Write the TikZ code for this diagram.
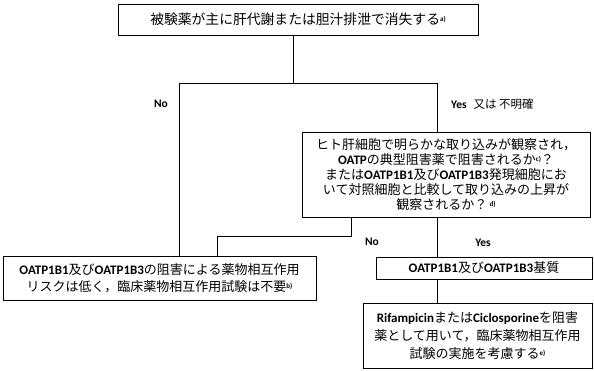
\documentclass[tikz,border=0pt]{standalone}
\usepackage{fontspec}
\setmainfont{Noto Sans CJK JP}
\newfontfamily\latb{Carlito}[BoldFont={* Bold}]
\newcommand{\lb}[1]{{\latb\bfseries #1}}
\newcommand{\sus}[1]{\raisebox{0.45ex}{\fontsize{7}{7}\selectfont\lb{#1}}}
\tikzset{
  box/.style={draw, line width=0.9pt, align=center, inner sep=0pt, anchor=center},
  conn/.style={draw, line width=0.9pt},
  lab/.style={inner sep=0pt, anchor=center, font=\fontsize{11.5}{13}\selectfont}
}
\begin{document}
\begin{tikzpicture}[x=1pt,y=-1pt]
\useasboundingbox (0,0) rectangle (594,370);
\node[box, minimum width=360pt, minimum height=31pt, font=\fontsize{13.8}{16}\selectfont] (top) at (298,19.5)
  {被験薬が主に肝代謝または胆汁排泄で消失する\sus{a)}};
\node[box, minimum width=288pt, minimum height=85pt, font=\fontsize{13}{15}\selectfont] (mid) at (446,174.5)
  {ヒト肝細胞で明らかな取り込みが観察され，\\
   \lb{OATP}の典型阻害薬で阻害されるか\sus{c)}？\\
   または\lb{OATP1B1}及び\lb{OATP1B3}発現細胞にお\\
   いて対照細胞と比較して取り込みの上昇が\\
   観察されるか？\,\sus{d)}};
\node[box, minimum width=313pt, minimum height=44pt, font=\fontsize{13}{17}\selectfont] (left) at (159.5,278)
  {\lb{OATP1B1}及び\lb{OATP1B3}の阻害による薬物相互作用\\
   リスクは低く，臨床薬物相互作用試験は不要\sus{b)}};
\node[box, minimum width=216pt, minimum height=22pt, font=\fontsize{13}{15}\selectfont] (sub) at (484,268)
  {\lb{OATP1B1}及び\lb{OATP1B3}基質};
\node[box, minimum width=229pt, minimum height=65pt, font=\fontsize{13}{18}\selectfont] (bot) at (477.5,335.5)
  {\lb{Rifampicin}または\lb{Ciclosporine}を阻害\\
   薬として用いて，臨床薬物相互作用\\
   試験の実施を考慮する\sus{e)}};
\coordinate (j1) at (293,83);
\coordinate (jl) at (179,83);
\coordinate (jr) at (437,83);
\coordinate (m1) at (351,236);
\coordinate (m2) at (217,236);
\draw[conn] (top.south -| j1) -- (j1);
\draw[conn] (jl) -- (jr);
\draw[conn] (jl) -- (jl |- left.north);
\draw[conn] (jr) -- (jr |- mid.north);
\draw[conn] (mid.south -| m1) -- (m1) -- (m2) -- (m2 |- left.north);
\draw[conn] (mid.south -| jr) -- (jr |- sub.north);
\draw[conn] (sub.south -| jr) -- (jr |- bot.north);
\node[lab] (no1) at (161,104) {\lb{No}};
\node[lab, anchor=west] (yes1) at (451,104) {\lb{Yes}\hspace{0.6em}又は 不明確};
\node[lab] (no2) at (372,242) {\lb{No}};
\node[lab] (yes2) at (483,243) {\lb{Yes}};
\end{tikzpicture}
\end{document}
